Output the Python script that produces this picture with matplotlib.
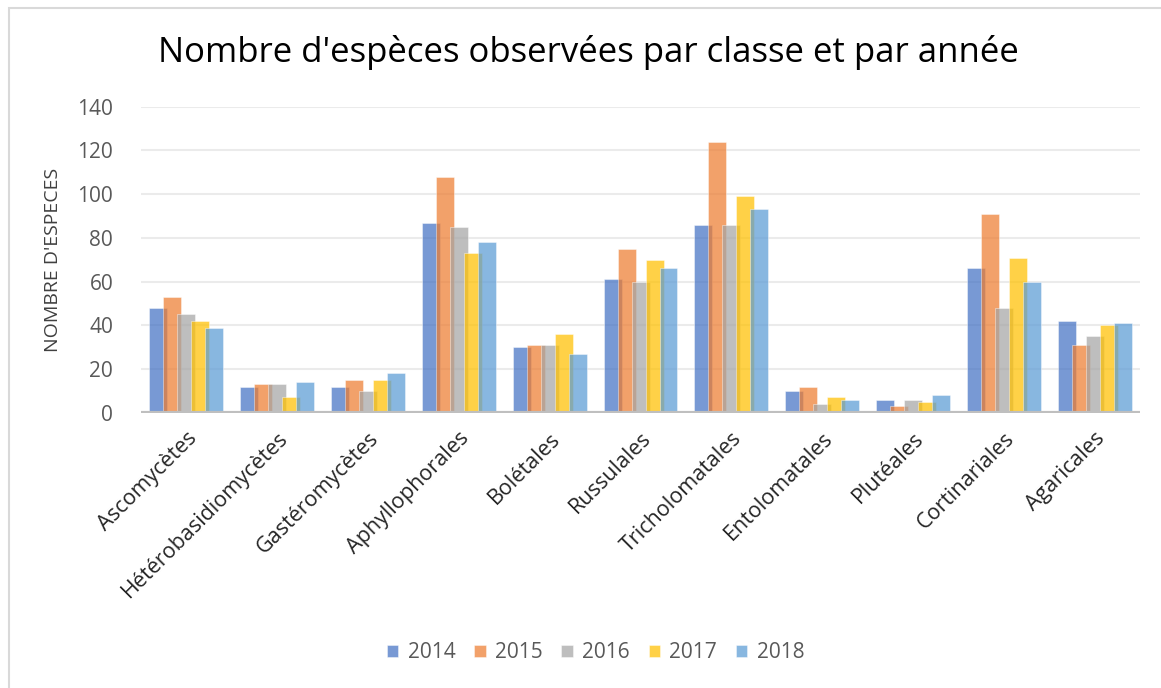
import numpy as np
import matplotlib.pyplot as plt
from matplotlib.patches import Rectangle

# categories and yearly counts
classes = ['Ascomycètes', 'Hétérobasidiomycètes', 'Gastéromycètes', 'Aphyllophorales',
           'Bolétales', 'Russulales', 'Tricholomatales', 'Entolomatales', 'Plutéales',
           'Cortinariales', 'Agaricales']
years = ['2014', '2015', '2016', '2017', '2018']
v2014 = [48, 12, 12, 87, 30, 61, 86, 10, 6, 66, 42]
v2015 = [53, 13, 15, 108, 31, 75, 124, 12, 3, 91, 31]
v2016 = [45, 13, 10, 85, 31, 60, 86, 4, 6, 48, 35]
v2017 = [42, 7, 15, 73, 36, 70, 99, 7, 5, 71, 40]
v2018 = [39, 14, 18, 78, 27, 66, 93, 6, 8, 60, 41]
colors = ['#4472C4', '#ED7D31', '#A5A5A5', '#FFC000', '#5B9BD5']

plt.rcParams['font.family'] = ['Open Sans', 'DejaVu Sans']

fig = plt.figure(figsize=(11.61, 6.88), dpi=100)
ax = fig.add_axes([0.1214, 0.400, 0.8606, 0.445])

x = np.arange(len(classes))
step = 0.154
width = 0.198
series = [v2014, v2015, v2016, v2017, v2018]
for i, (vals, c, yr) in enumerate(zip(series, colors, years)):
    ax.bar(x + (i - 2) * step, vals, width, color=c, alpha=0.72, label=yr, zorder=2,
           edgecolor='white', linewidth=0.4)

ax.set_xlim(-0.5, len(classes) - 0.5)
ax.set_ylim(0, 140)
ax.set_yticks(range(0, 141, 20))
ax.grid(axis='y', color='#EBEBEB', linewidth=1.5, zorder=0)
ax.axhline(0, color='#BFBFBF', linewidth=3, zorder=3)
for s in ax.spines.values():
    s.set_visible(False)
ax.tick_params(axis='both', length=0)
ax.tick_params(axis='y', labelsize=15, labelcolor='#595959', pad=20)
ax.set_xticks(x)
ax.set_xticklabels(classes, rotation=45, ha='right', rotation_mode='anchor',
                   fontsize=15.5, color='#262626')
ax.tick_params(axis='x', pad=11)
ax.set_ylabel("NOMBRE D'ESPECES", fontsize=14, color='#404040', labelpad=11)

fig.text(0.507, 0.924, "Nombre d'espèces observées par classe et par année",
         ha='center', va='center', fontsize=25, color='black')

leg = ax.legend(loc='center', bbox_to_anchor=(0.513, 0.051), bbox_transform=fig.transFigure,
                ncol=5, frameon=False, fontsize=15, handlelength=0.55, handleheight=0.55,
                columnspacing=0.9, handletextpad=0.45)
for t in leg.get_texts():
    t.set_color('#595959')

# chart frame
fig.patches.append(Rectangle((9 / 1161, -0.1), 1.2, 1 - 8 / 688 + 0.1, transform=fig.transFigure,
                             fill=False, edgecolor='#D9D9D9', linewidth=1.5))

fig.savefig('out.png', dpi=100)
